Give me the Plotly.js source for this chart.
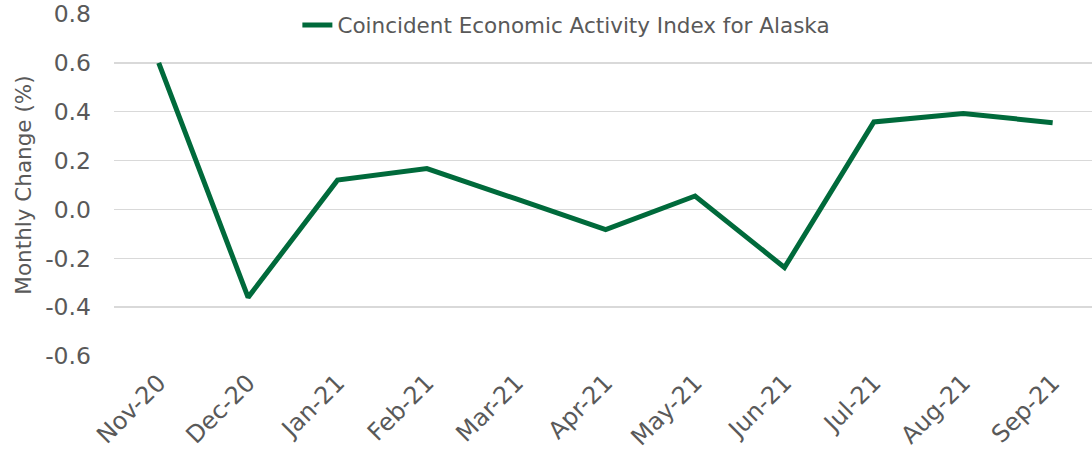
<!DOCTYPE html>
<html>
<head>
<meta charset="utf-8">
<script src="https://cdn.plot.ly/plotly-3.0.1.min.js"></script>
<style>html,body{margin:0;padding:0;background:#fff}#chart{width:1092px;height:456px}</style>
</head>
<body>
<div id="chart"></div>
<script>
const categories = ["Nov-20","Dec-20","Jan-21","Feb-21","Mar-21","Apr-21","May-21","Jun-21","Jul-21","Aug-21","Sep-21"];
const values = [0.60, -0.36, 0.12, 0.167, 0.043, -0.083, 0.055, -0.238, 0.358, 0.393, 0.355];
const seriesName = "Coincident Economic Activity Index for Alaska";
const yTicks = [-0.6, -0.4, -0.2, 0.0, 0.2, 0.4, 0.6, 0.8];
const yTickText = ["-0.6", "-0.4", "-0.2", "0.0", "0.2", "0.4", "0.6", "0.8"];

const trace = {
  x: categories,
  y: values,
  type: "scatter",
  mode: "lines",
  name: seriesName,
  line: {color: "#006a3b", width: 5}
};

const layout = {
  width: 1092,
  height: 456,
  margin: {l: 114, r: 0, t: 14, b: 100},
  paper_bgcolor: "#ffffff",
  plot_bgcolor: "#ffffff",
  font: {family: "DejaVu Sans, Verdana, sans-serif", color: "#595959"},
  showlegend: true,
  legend: {
    orientation: "h",
    x: 0.1875, xanchor: "left",
    y: 0.968, yanchor: "middle",
    bgcolor: "rgba(0,0,0,0)",
    font: {size: 21.5, color: "#595959"}
  },
  xaxis: {
    type: "category",
    range: [-0.5, 10.44],
    tickangle: -45,
    tickfont: {size: 24, color: "#595959"},
    showgrid: false,
    showline: false,
    zeroline: false,
    ticks: "",
    ticklabelstandoff: 7
  },
  yaxis: {
    range: [-0.6, 0.8],
    tickvals: yTicks,
    ticktext: yTickText,
    tickfont: {size: 23.5, color: "#595959"},
    showgrid: true,
    gridcolor: "#d9d9d9",
    gridwidth: 1.5,
    zeroline: false,
    showline: false,
    ticks: "",
    ticklabelstandoff: 22,
    title: {text: "Monthly Change (%)", font: {size: 21.5, color: "#595959"}, standoff: 7}
  }
};

Plotly.newPlot("chart", [trace], layout, {displayModeBar: false, staticPlot: true});
</script>
</body>
</html>
